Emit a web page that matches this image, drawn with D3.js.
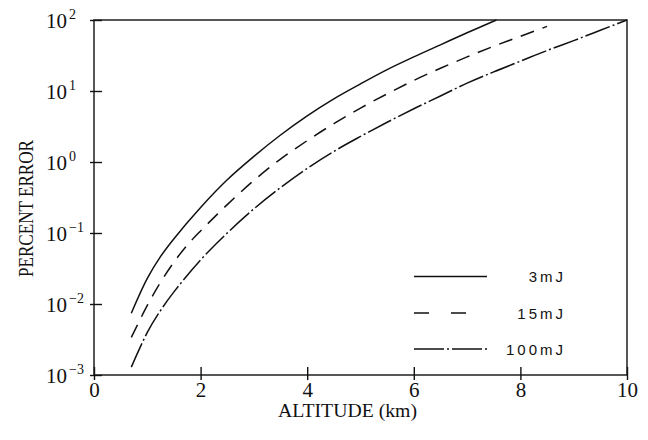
<!DOCTYPE html>
<html><head><meta charset="utf-8">
<script src="https://cdn.jsdelivr.net/npm/d3@7"></script>
<style>html,body{margin:0;padding:0;background:#fff;}svg{display:block;}</style>
</head><body>
<svg id="chart" width="648" height="440"></svg>
<script>
// ---- data ----
const xTicks = [0, 2, 4, 6, 8, 10];
const yTicks = [1e-3, 1e-2, 1e-1, 1e0, 1e1, 1e2];
const yTickExp = ["−3", "−2", "−1", "0", "1", "2"];

const alt3 = [0.7, 1.0, 1.25, 1.5, 2.0, 2.5, 3.0, 3.5, 4.0, 4.5, 5.0, 5.5, 6.0, 6.5, 7.0, 7.55];
const err3 = [0.00741, 0.0229, 0.0468, 0.0832, 0.229, 0.562, 1.20, 2.40, 4.47, 7.76, 12.6, 20.0, 30.2, 44.7, 66.1, 100];

const alt15 = [0.7, 1.0, 1.25, 1.5, 1.75, 2.0, 2.5, 3.0, 3.5, 4.0, 4.5, 5.0, 5.5, 6.0, 6.5, 7.0, 7.5, 8.0, 8.5];
const err15 = [0.00339, 0.00955, 0.0204, 0.0389, 0.0676, 0.107, 0.251, 0.550, 1.10, 2.00, 3.47, 5.75, 9.12, 14.1, 20.9, 30.2, 42.7, 58.9, 81.3];

const alt100 = [0.7, 1.0, 1.25, 1.5, 2.0, 2.5, 3.0, 3.5, 4.0, 4.5, 5.0, 5.5, 6.0, 6.5, 7.0, 7.5, 8.0, 8.5, 9.0, 9.5, 10.0];
const err100 = [0.00129, 0.00398, 0.00813, 0.0148, 0.0417, 0.100, 0.219, 0.437, 0.813, 1.41, 2.29, 3.63, 5.62, 8.51, 12.9, 18.6, 26.3, 37.2, 51.3, 71.6, 100];

const seriesNames = ["3mJ", "15mJ", "100mJ"];
const seriesDash = [null, "14,9", "26,3,2,3"];
const legendDash = [null, "15,22", "30,3,2,3"];

// ---- drawing ----
const svg = d3.select("#chart");
const L = 94, R = 627, T = 20, B = 375;
const x = d3.scaleLinear().domain([0, 10]).range([L, R]);
const y = d3.scaleLog().domain([1e-3, 1e2]).range([B, T]);
const ink = "#111";
const serif = "'Liberation Serif', 'DejaVu Serif', serif";

// frame
svg.append("rect").attr("x", L).attr("y", T).attr("width", R - L).attr("height", B - T)
  .attr("fill", "none").attr("stroke", ink).attr("stroke-width", 1.4);

// bottom axis
const gx = svg.append("g").attr("transform", `translate(0,${B})`)
  .call(d3.axisBottom(x).tickValues(xTicks).tickSize(0).tickPadding(0).tickFormat(d3.format("d")));
gx.select(".domain").remove();
gx.selectAll(".tick line").attr("y1", -8).attr("y2", 5).attr("stroke", ink).attr("stroke-width", 1.4);
gx.selectAll(".tick text").attr("y", 22).attr("dy", 0)
  .attr("font-family", serif).attr("font-size", 21).attr("fill", ink);

// left axis
const gy = svg.append("g").attr("transform", `translate(${L},0)`)
  .call(d3.axisLeft(y).tickValues(yTicks).tickSize(0).tickFormat(""));
gy.select(".domain").remove();
gy.selectAll(".tick line").attr("x1", -4).attr("x2", 8).attr("stroke", ink).attr("stroke-width", 1.4);
gy.selectAll(".tick").each(function (d, i) {
  const t = d3.select(this).append("text")
    .attr("x", 46 - L).attr("y", 7).attr("text-anchor", "start")
    .attr("font-family", serif).attr("font-size", 21).attr("fill", ink);
  t.append("tspan").text("10");
  t.append("tspan").attr("dx", 2).attr("dy", -9).attr("font-size", 14).text(yTickExp[i]);
});

// axis titles
svg.append("text").attr("x", 278).attr("y", 417).attr("text-anchor", "start")
  .attr("textLength", 139).attr("lengthAdjust", "spacingAndGlyphs")
  .attr("font-family", serif).attr("font-size", 18).attr("fill", ink).text("ALTITUDE (km)");
svg.append("text").attr("transform", "translate(33,277) rotate(-90)").attr("text-anchor", "start")
  .attr("textLength", 137).attr("lengthAdjust", "spacingAndGlyphs")
  .attr("font-family", serif).attr("font-size", 21).attr("fill", ink).text("PERCENT ERROR");

// curves
const line = d3.line().x(d => x(d[0])).y(d => y(d[1])).curve(d3.curveCatmullRom.alpha(0.5));
const series = [d3.zip(alt3, err3), d3.zip(alt15, err15), d3.zip(alt100, err100)];
series.forEach((s, i) => {
  svg.append("path").attr("d", line(s)).attr("fill", "none").attr("stroke", ink)
    .attr("stroke-width", 1.5).attr("stroke-dasharray", seriesDash[i]);
});

// legend
const legY = [276.5, 313, 349];
seriesNames.forEach((n, i) => {
  svg.append("line").attr("x1", 414).attr("x2", 487).attr("y1", legY[i]).attr("y2", legY[i])
    .attr("stroke", ink).attr("stroke-width", 1.5).attr("stroke-dasharray", legendDash[i]);
  svg.append("text").attr("x", 566).attr("y", legY[i] + 5.5).attr("text-anchor", "end")
    .attr("font-family", "'Liberation Sans', Arial, sans-serif").attr("font-size", 15)
    .attr("letter-spacing", 3).attr("fill", ink).text(n);
});
</script>
</body></html>
